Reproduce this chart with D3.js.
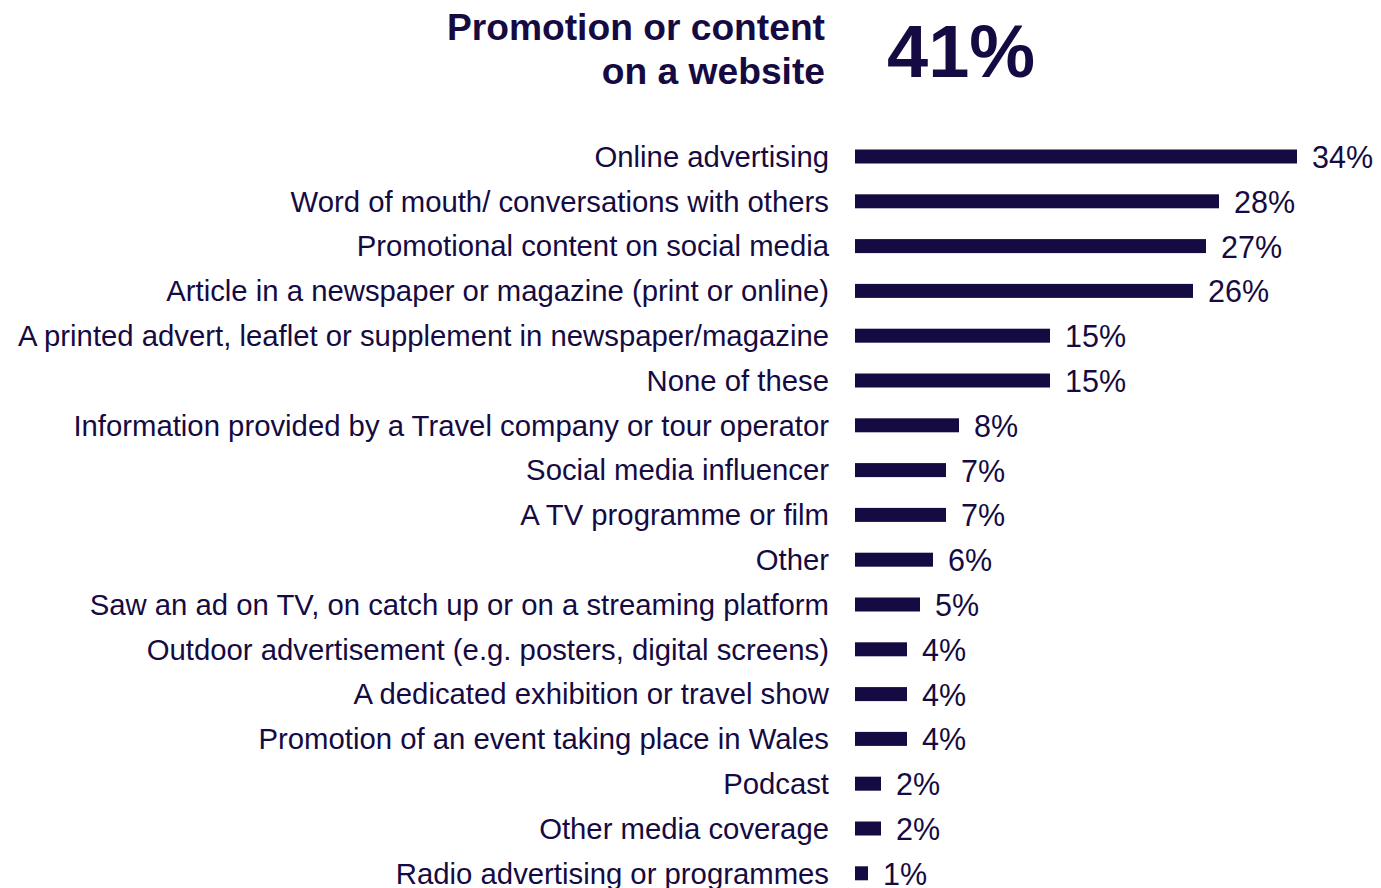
<!DOCTYPE html>
<html>
<head>
<meta charset="utf-8">
<script src="https://cdn.jsdelivr.net/npm/d3@7/dist/d3.min.js"></script>
<style>
  html, body { margin: 0; padding: 0; background: #ffffff; overflow: hidden; }
  svg { display: block; }
  text { font-family: "Liberation Sans", Arial, sans-serif; }
</style>
</head>
<body>
<svg id="chart" width="1381" height="888"></svg>
<script>
// Sources of inspiration — share of respondents per source
const categories = [
  "Online advertising",
  "Word of mouth/ conversations with others",
  "Promotional content on social media",
  "Article in a newspaper or magazine (print or online)",
  "A printed advert, leaflet or supplement in newspaper/magazine",
  "None of these",
  "Information provided by a Travel company or tour operator",
  "Social media influencer",
  "A TV programme or film",
  "Other",
  "Saw an ad on TV, on catch up or on a streaming platform",
  "Outdoor advertisement (e.g. posters, digital screens)",
  "A dedicated exhibition or travel show",
  "Promotion of an event taking place in Wales",
  "Podcast",
  "Other media coverage",
  "Radio advertising or programmes"
];
const values = [34, 28, 27, 26, 15, 15, 8, 7, 7, 6, 5, 4, 4, 4, 2, 2, 1];

const titleLines = ["Promotion or content", "on a website"];
const headline = "41%";

const ink = "#150b42";
const svg = d3.select("#chart");

const x = d3.scaleLinear().domain([0, 34]).range([855, 1297]);
const y = d3.scaleBand()
  .domain(categories)
  .range([134.1, 134.1 + 44.8 * categories.length])
  .paddingInner(1 - 14 / 44.8)
  .paddingOuter((1 - 14 / 44.8) / 2);

// Header
svg.append("g").selectAll("text")
  .data(titleLines)
  .join("text")
  .attr("x", 825)
  .attr("y", (d, i) => 40 + i * 44)
  .attr("text-anchor", "end")
  .attr("font-size", 37.2)
  .attr("font-weight", "bold")
  .attr("fill", ink)
  .text(d => d);

svg.append("text")
  .attr("x", 887)
  .attr("y", 77)
  .attr("font-size", 74)
  .attr("font-weight", "bold")
  .attr("fill", ink)
  .text(headline);

const rows = svg.append("g").selectAll("g")
  .data(categories.map((c, i) => ({ c, v: values[i] })))
  .join("g");

// Category labels
rows.append("text")
  .attr("x", 829)
  .attr("y", d => y(d.c) + y.bandwidth() / 2)
  .attr("dy", "0.35em")
  .attr("text-anchor", "end")
  .attr("font-size", 29.3)
  .attr("fill", ink)
  .text(d => d.c);

// Bars
rows.append("rect")
  .attr("x", x(0))
  .attr("y", d => y(d.c))
  .attr("width", d => x(d.v) - x(0))
  .attr("height", y.bandwidth())
  .attr("fill", ink);

// Value labels
rows.append("text")
  .attr("x", d => x(d.v) + 15)
  .attr("y", d => y(d.c) + y.bandwidth() / 2)
  .attr("dy", "0.38em")
  .attr("font-size", 30.5)
  .attr("fill", ink)
  .text(d => d.v + "%");
</script>
</body>
</html>
